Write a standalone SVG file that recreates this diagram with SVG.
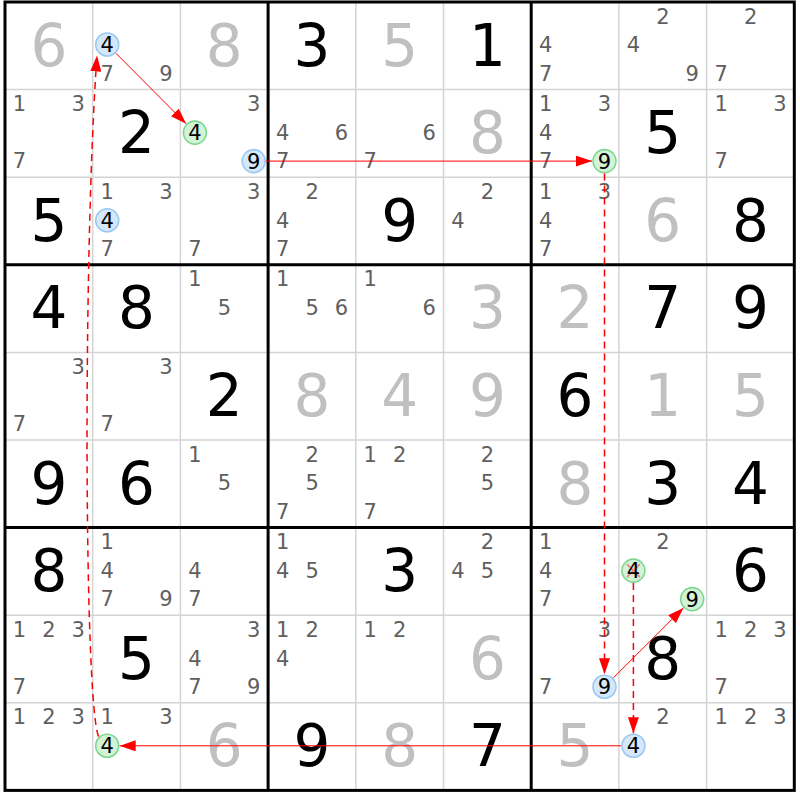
<svg xmlns="http://www.w3.org/2000/svg" width="800" height="800" viewBox="0 0 800 800">
<style>
text{font-family:"DejaVu Sans","Liberation Sans",sans-serif;text-anchor:middle}
.g{fill:#c0c0c0;font-size:58px}
.s{fill:#000;font-size:58px}
.c{fill:#5f5f5f;font-size:21px}
.k{fill:#000;font-size:21px}
.cb{fill:#d5e8fb;stroke:#9cc8f2;stroke-width:1.6}
.cg{fill:#d3f3d7;stroke:#7fd68f;stroke-width:1.6}
.thin{stroke:#d4d4d4;stroke-width:1.5}
.thick{stroke:#000;stroke-width:3}
.ln{stroke:#ff0000;stroke-width:1;fill:none}
.dl{stroke:#ff0000;stroke-width:1.5;fill:none;stroke-dasharray:7,5}
</style>
<defs>
<marker id="ah" markerWidth="16" markerHeight="11" refX="16" refY="5.5" orient="auto" markerUnits="userSpaceOnUse"><path d="M0,0 L16,5.5 L0,11 z" fill="#ff0000"/></marker>
</defs>
<rect x="0" y="0" width="800" height="800" fill="#fff"/>
<g id="grid">
<path class="thin" d="M92.7,2V790.4M180.4,2V790.4M355.8,2V790.4M443.5,2V790.4M618.9,2V790.4M706.6,2V790.4M5,89.6H794.3M5,177.2H794.3M5,352.4H794.3M5,440H794.3M5,615.2H794.3M5,702.8H794.3"/>
<path class="thick" d="M268.1,2V790.4M531.2,2V790.4M5,264.8H794.3M5,527.6H794.3"/>
<rect class="thick" x="5" y="2" width="789.3" height="788.4" fill="none"/>
</g>
<!-- row 1 -->
<g id="r1c1" transform="translate(5,2)"><text class="g" x="43.85" y="63.5">6</text></g>
<g id="r1c2" transform="translate(92.7,2)"><circle class="cb" cx="14.5" cy="42.5" r="11.5"/><text class="k" x="14.5" y="50">4</text><text class="c" x="14.5" y="78.5">7</text><text class="c" x="73.3" y="78.5">9</text></g>
<g id="r1c3" transform="translate(180.4,2)"><text class="g" x="43.85" y="63.5">8</text></g>
<g id="r1c4" transform="translate(268.1,2)"><text class="s" x="43.85" y="63.5">3</text></g>
<g id="r1c5" transform="translate(355.8,2)"><text class="g" x="43.85" y="63.5">5</text></g>
<g id="r1c6" transform="translate(443.5,2)"><text class="s" x="43.85" y="63.5">1</text></g>
<g id="r1c7" transform="translate(531.2,2)"><text class="c" x="14.5" y="50.4">4</text><text class="c" x="14.5" y="78.5">7</text></g>
<g id="r1c8" transform="translate(618.9,2)"><text class="c" x="44" y="21.5">2</text><text class="c" x="14.5" y="50.4">4</text><text class="c" x="73.3" y="78.5">9</text></g>
<g id="r1c9" transform="translate(706.6,2)"><text class="c" x="44" y="21.5">2</text><text class="c" x="14.5" y="78.5">7</text></g>
<!-- row 2 -->
<g id="r2c1" transform="translate(5,89.6)"><text class="c" x="14.5" y="21.5">1</text><text class="c" x="73.3" y="21.5">3</text><text class="c" x="14.5" y="78.5">7</text></g>
<g id="r2c2" transform="translate(92.7,89.6)"><text class="s" x="43.85" y="63.5">2</text></g>
<g id="r2c3" transform="translate(180.4,89.6)"><text class="c" x="73.3" y="21.5">3</text><circle class="cg" cx="14.5" cy="43" r="11.5"/><text class="k" x="14.5" y="50.5">4</text><circle class="cb" cx="73.3" cy="71.5" r="11.5"/><text class="k" x="73.3" y="79">9</text></g>
<g id="r2c4" transform="translate(268.1,89.6)"><text class="c" x="14.5" y="50.4">4</text><text class="c" x="73.3" y="50.4">6</text><text class="c" x="14.5" y="78.5">7</text></g>
<g id="r2c5" transform="translate(355.8,89.6)"><text class="c" x="73.3" y="50.4">6</text><text class="c" x="14.5" y="78.5">7</text></g>
<g id="r2c6" transform="translate(443.5,89.6)"><text class="g" x="43.85" y="63.5">8</text></g>
<g id="r2c7" transform="translate(531.2,89.6)"><text class="c" x="14.5" y="21.5">1</text><text class="c" x="73.3" y="21.5">3</text><text class="c" x="14.5" y="50.4">4</text><text class="c" x="14.5" y="78.5">7</text><circle class="cg" cx="73.3" cy="71.5" r="11.5"/><text class="k" x="73.3" y="79">9</text></g>
<g id="r2c8" transform="translate(618.9,89.6)"><text class="s" x="43.85" y="63.5">5</text></g>
<g id="r2c9" transform="translate(706.6,89.6)"><text class="c" x="14.5" y="21.5">1</text><text class="c" x="73.3" y="21.5">3</text><text class="c" x="14.5" y="78.5">7</text></g>
<!-- row 3 -->
<g id="r3c1" transform="translate(5,177.2)"><text class="s" x="43.85" y="63.5">5</text></g>
<g id="r3c2" transform="translate(92.7,177.2)"><text class="c" x="14.5" y="21.5">1</text><text class="c" x="73.3" y="21.5">3</text><circle class="cb" cx="14.5" cy="43" r="11.5"/><text class="k" x="14.5" y="50.5">4</text><text class="c" x="14.5" y="78.5">7</text></g>
<g id="r3c3" transform="translate(180.4,177.2)"><text class="c" x="73.3" y="21.5">3</text><text class="c" x="14.5" y="78.5">7</text></g>
<g id="r3c4" transform="translate(268.1,177.2)"><text class="c" x="44" y="21.5">2</text><text class="c" x="14.5" y="50.4">4</text><text class="c" x="14.5" y="78.5">7</text></g>
<g id="r3c5" transform="translate(355.8,177.2)"><text class="s" x="43.85" y="63.5">9</text></g>
<g id="r3c6" transform="translate(443.5,177.2)"><text class="c" x="44" y="21.5">2</text><text class="c" x="14.5" y="50.4">4</text></g>
<g id="r3c7" transform="translate(531.2,177.2)"><text class="c" x="14.5" y="21.5">1</text><text class="c" x="73.3" y="21.5">3</text><text class="c" x="14.5" y="50.4">4</text><text class="c" x="14.5" y="78.5">7</text></g>
<g id="r3c8" transform="translate(618.9,177.2)"><text class="g" x="43.85" y="63.5">6</text></g>
<g id="r3c9" transform="translate(706.6,177.2)"><text class="s" x="43.85" y="63.5">8</text></g>
<!-- row 4 -->
<g id="r4c1" transform="translate(5,264.8)"><text class="s" x="43.85" y="63.5">4</text></g>
<g id="r4c2" transform="translate(92.7,264.8)"><text class="s" x="43.85" y="63.5">8</text></g>
<g id="r4c3" transform="translate(180.4,264.8)"><text class="c" x="14.5" y="21.5">1</text><text class="c" x="44" y="50.4">5</text></g>
<g id="r4c4" transform="translate(268.1,264.8)"><text class="c" x="14.5" y="21.5">1</text><text class="c" x="44" y="50.4">5</text><text class="c" x="73.3" y="50.4">6</text></g>
<g id="r4c5" transform="translate(355.8,264.8)"><text class="c" x="14.5" y="21.5">1</text><text class="c" x="73.3" y="50.4">6</text></g>
<g id="r4c6" transform="translate(443.5,264.8)"><text class="g" x="43.85" y="63.5">3</text></g>
<g id="r4c7" transform="translate(531.2,264.8)"><text class="g" x="43.85" y="63.5">2</text></g>
<g id="r4c8" transform="translate(618.9,264.8)"><text class="s" x="43.85" y="63.5">7</text></g>
<g id="r4c9" transform="translate(706.6,264.8)"><text class="s" x="43.85" y="63.5">9</text></g>
<!-- row 5 -->
<g id="r5c1" transform="translate(5,352.4)"><text class="c" x="73.3" y="21.5">3</text><text class="c" x="14.5" y="78.5">7</text></g>
<g id="r5c2" transform="translate(92.7,352.4)"><text class="c" x="73.3" y="21.5">3</text><text class="c" x="14.5" y="78.5">7</text></g>
<g id="r5c3" transform="translate(180.4,352.4)"><text class="s" x="43.85" y="63.5">2</text></g>
<g id="r5c4" transform="translate(268.1,352.4)"><text class="g" x="43.85" y="63.5">8</text></g>
<g id="r5c5" transform="translate(355.8,352.4)"><text class="g" x="43.85" y="63.5">4</text></g>
<g id="r5c6" transform="translate(443.5,352.4)"><text class="g" x="43.85" y="63.5">9</text></g>
<g id="r5c7" transform="translate(531.2,352.4)"><text class="s" x="43.85" y="63.5">6</text></g>
<g id="r5c8" transform="translate(618.9,352.4)"><text class="g" x="43.85" y="63.5">1</text></g>
<g id="r5c9" transform="translate(706.6,352.4)"><text class="g" x="43.85" y="63.5">5</text></g>
<!-- row 6 -->
<g id="r6c1" transform="translate(5,440)"><text class="s" x="43.85" y="63.5">9</text></g>
<g id="r6c2" transform="translate(92.7,440)"><text class="s" x="43.85" y="63.5">6</text></g>
<g id="r6c3" transform="translate(180.4,440)"><text class="c" x="14.5" y="21.5">1</text><text class="c" x="44" y="50.4">5</text></g>
<g id="r6c4" transform="translate(268.1,440)"><text class="c" x="44" y="21.5">2</text><text class="c" x="44" y="50.4">5</text><text class="c" x="14.5" y="78.5">7</text></g>
<g id="r6c5" transform="translate(355.8,440)"><text class="c" x="14.5" y="21.5">1</text><text class="c" x="44" y="21.5">2</text><text class="c" x="14.5" y="78.5">7</text></g>
<g id="r6c6" transform="translate(443.5,440)"><text class="c" x="44" y="21.5">2</text><text class="c" x="44" y="50.4">5</text></g>
<g id="r6c7" transform="translate(531.2,440)"><text class="g" x="43.85" y="63.5">8</text></g>
<g id="r6c8" transform="translate(618.9,440)"><text class="s" x="43.85" y="63.5">3</text></g>
<g id="r6c9" transform="translate(706.6,440)"><text class="s" x="43.85" y="63.5">4</text></g>
<!-- row 7 -->
<g id="r7c1" transform="translate(5,527.6)"><text class="s" x="43.85" y="63.5">8</text></g>
<g id="r7c2" transform="translate(92.7,527.6)"><text class="c" x="14.5" y="21.5">1</text><text class="c" x="14.5" y="50.4">4</text><text class="c" x="14.5" y="78.5">7</text><text class="c" x="73.3" y="78.5">9</text></g>
<g id="r7c3" transform="translate(180.4,527.6)"><text class="c" x="14.5" y="50.4">4</text><text class="c" x="14.5" y="78.5">7</text></g>
<g id="r7c4" transform="translate(268.1,527.6)"><text class="c" x="14.5" y="21.5">1</text><text class="c" x="14.5" y="50.4">4</text><text class="c" x="44" y="50.4">5</text></g>
<g id="r7c5" transform="translate(355.8,527.6)"><text class="s" x="43.85" y="63.5">3</text></g>
<g id="r7c6" transform="translate(443.5,527.6)"><text class="c" x="44" y="21.5">2</text><text class="c" x="14.5" y="50.4">4</text><text class="c" x="44" y="50.4">5</text></g>
<g id="r7c7" transform="translate(531.2,527.6)"><text class="c" x="14.5" y="21.5">1</text><text class="c" x="14.5" y="50.4">4</text><text class="c" x="14.5" y="78.5">7</text></g>
<g id="r7c8" transform="translate(618.9,527.6)"><text class="c" x="44" y="21.5">2</text><circle class="cg" cx="14.5" cy="43" r="11.5"/><path d="M8,36.5L21,49.5M21,36.5L8,49.5" stroke="#f28a8a" stroke-width="2"/><text class="k" x="14.5" y="50.5">4</text><circle class="cg" cx="73.3" cy="71.5" r="11.5"/><text class="k" x="73.3" y="79">9</text></g>
<g id="r7c9" transform="translate(706.6,527.6)"><text class="s" x="43.85" y="63.5">6</text></g>
<!-- row 8 -->
<g id="r8c1" transform="translate(5,615.2)"><text class="c" x="14.5" y="21.5">1</text><text class="c" x="44" y="21.5">2</text><text class="c" x="73.3" y="21.5">3</text><text class="c" x="14.5" y="78.5">7</text></g>
<g id="r8c2" transform="translate(92.7,615.2)"><text class="s" x="43.85" y="63.5">5</text></g>
<g id="r8c3" transform="translate(180.4,615.2)"><text class="c" x="73.3" y="21.5">3</text><text class="c" x="14.5" y="50.4">4</text><text class="c" x="14.5" y="78.5">7</text><text class="c" x="73.3" y="78.5">9</text></g>
<g id="r8c4" transform="translate(268.1,615.2)"><text class="c" x="14.5" y="21.5">1</text><text class="c" x="44" y="21.5">2</text><text class="c" x="14.5" y="50.4">4</text></g>
<g id="r8c5" transform="translate(355.8,615.2)"><text class="c" x="14.5" y="21.5">1</text><text class="c" x="44" y="21.5">2</text></g>
<g id="r8c6" transform="translate(443.5,615.2)"><text class="g" x="43.85" y="63.5">6</text></g>
<g id="r8c7" transform="translate(531.2,615.2)"><text class="c" x="73.3" y="21.5">3</text><text class="c" x="14.5" y="78.5">7</text><circle class="cb" cx="73.3" cy="71.5" r="11.5"/><text class="k" x="73.3" y="79">9</text></g>
<g id="r8c8" transform="translate(618.9,615.2)"><text class="s" x="43.85" y="63.5">8</text></g>
<g id="r8c9" transform="translate(706.6,615.2)"><text class="c" x="14.5" y="21.5">1</text><text class="c" x="44" y="21.5">2</text><text class="c" x="73.3" y="21.5">3</text><text class="c" x="14.5" y="78.5">7</text></g>
<!-- row 9 -->
<g id="r9c1" transform="translate(5,702.8)"><text class="c" x="14.5" y="21.5">1</text><text class="c" x="44" y="21.5">2</text><text class="c" x="73.3" y="21.5">3</text></g>
<g id="r9c2" transform="translate(92.7,702.8)"><text class="c" x="14.5" y="21.5">1</text><text class="c" x="73.3" y="21.5">3</text><circle class="cg" cx="14.5" cy="43" r="11.5"/><text class="k" x="14.5" y="50.5">4</text></g>
<g id="r9c3" transform="translate(180.4,702.8)"><text class="g" x="43.85" y="63.5">6</text></g>
<g id="r9c4" transform="translate(268.1,702.8)"><text class="s" x="43.85" y="63.5">9</text></g>
<g id="r9c5" transform="translate(355.8,702.8)"><text class="g" x="43.85" y="63.5">8</text></g>
<g id="r9c6" transform="translate(443.5,702.8)"><text class="s" x="43.85" y="63.5">7</text></g>
<g id="r9c7" transform="translate(531.2,702.8)"><text class="g" x="43.85" y="63.5">5</text></g>
<g id="r9c8" transform="translate(618.9,702.8)"><text class="c" x="44" y="21.5">2</text><circle class="cb" cx="14.5" cy="43" r="11.5"/><text class="k" x="14.5" y="50.5">4</text></g>
<g id="r9c9" transform="translate(706.6,702.8)"><text class="c" x="14.5" y="21.5">1</text><text class="c" x="44" y="21.5">2</text><text class="c" x="73.3" y="21.5">3</text></g>
<g id="connectors">
<path class="ln" d="M116,53.3L186.1,123.8" marker-end="url(#ah)"/>
<path class="ln" d="M266,161.1H592" marker-end="url(#ah)"/>
<path class="dl" d="M604.5,173.5V674.2" marker-end="url(#ah)"/>
<path class="ln" d="M613.3,677.9L683.4,607.9" marker-end="url(#ah)"/>
<path class="dl" d="M633.4,583V733.3" marker-end="url(#ah)"/>
<path class="ln" d="M621,745.8H119.7" marker-end="url(#ah)"/>
<path class="dl" d="M98.5,736.5C84,700 83,250 97,55.5" marker-end="url(#ah)"/>
</g>
</svg>
